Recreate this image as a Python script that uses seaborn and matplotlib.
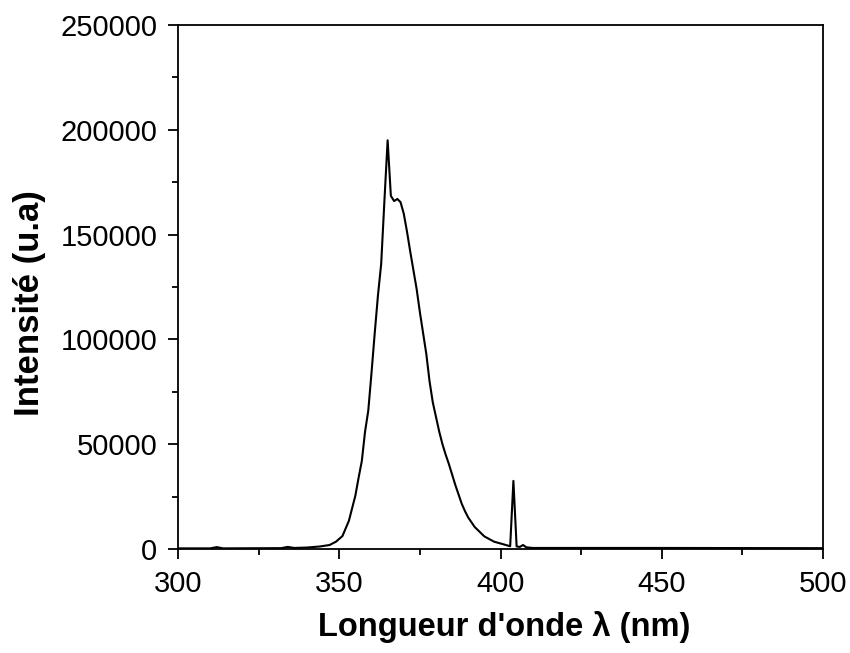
import matplotlib
matplotlib.use("Agg")
import matplotlib.pyplot as plt
from matplotlib.ticker import MultipleLocator, FixedLocator
import seaborn as sns
import pandas as pd

wavelength = [300, 310, 312, 314, 330, 332, 334, 336, 340, 344, 347, 349, 351, 353, 354,
              355, 356, 357, 358, 359, 360, 361, 362, 363, 364, 365, 366, 367, 368, 369,
              370, 371, 372, 373, 374, 375, 376, 377, 378, 379, 380, 381, 382, 383, 384,
              385, 386, 387, 388, 389, 390, 392, 395, 398, 401, 403, 404, 405, 406, 407,
              408, 410, 450, 500]
intensity = [300, 300, 900, 300, 400, 400, 1000, 500, 700, 1200, 1900, 3500, 6200, 13500,
             19500, 25500, 34000, 42000, 56000, 66000, 84000, 103000, 121000, 136000,
             166000, 195000, 168500, 166000, 167000, 165500, 160000, 151500, 142000,
             133000, 124000, 113000, 103000, 93000, 80000, 70000, 63000, 56000, 50000,
             45000, 40500, 35500, 30500, 26000, 21500, 18000, 15000, 10500, 6000, 3500,
             2200, 1300, 32500, 1200, 1000, 1900, 800, 500, 500, 400]
x_ticks = [300, 350, 400, 450, 500]
y_ticks = [0, 50000, 100000, 150000, 200000, 250000]

sns.set_style("ticks")
plt.rcParams['font.family'] = ['Liberation Sans', 'DejaVu Sans']

df = pd.DataFrame({"wl": wavelength, "I": intensity})

fig = plt.figure(figsize=(8.5, 6.53), dpi=100)
ax = fig.add_axes([178/850, 104/653, (823-178)/850, (549-25)/653])
sns.lineplot(data=df, x="wl", y="I", ax=ax, color="black", linewidth=1.5)

ax.set_xlim(300, 500)
ax.set_ylim(0, 250000)
ax.xaxis.set_major_locator(FixedLocator(x_ticks))
ax.yaxis.set_major_locator(FixedLocator(y_ticks))
ax.xaxis.set_minor_locator(MultipleLocator(25))
ax.yaxis.set_minor_locator(MultipleLocator(25000))
ax.set_xticklabels([str(v) for v in x_ticks])
ax.set_yticklabels([str(v) for v in y_ticks])

for s in ax.spines.values():
    s.set_visible(True)
    s.set_linewidth(1.3)
    s.set_color("black")

ax.tick_params(which="major", direction="out", length=7, width=1.3, labelsize=21,
               colors="black", labelcolor="black", pad=8)
ax.tick_params(which="minor", direction="out", length=4, width=1.3, colors="black")
ax.tick_params(which="both", top=False, right=False)

ax.set_xlabel("Longueur d'onde λ (nm)", fontsize=23.5, fontweight="bold", color="black")
ax.set_ylabel("Intensité (u.a)", fontsize=25, fontweight="bold", color="black")
ax.xaxis.set_label_coords(0.505, -0.118)
ax.yaxis.set_label_coords(-0.205, 0.469)

fig.savefig("out.png", dpi=100, facecolor="white")
